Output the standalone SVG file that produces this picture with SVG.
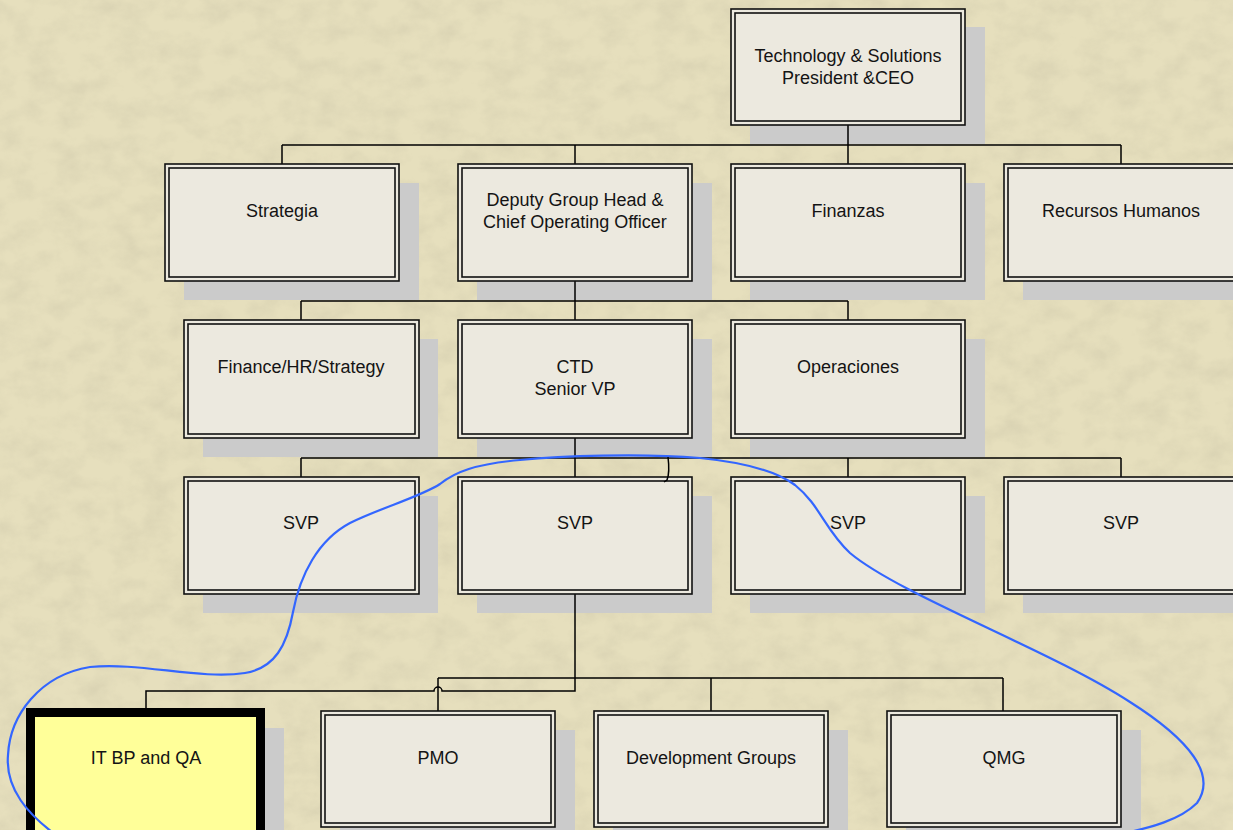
<svg xmlns="http://www.w3.org/2000/svg" width="1233" height="830" viewBox="0 0 1233 830">
<style>
.shadow{fill:#cbcbcb}
.outer{fill:#ece9df;stroke:#111;stroke-width:1.6}
.inner{fill:none;stroke:#111;stroke-width:1.6}
.lbl{font-family:"Liberation Sans",Arial,sans-serif;font-size:18px;fill:#141414;text-anchor:middle}
.conn{fill:none;stroke:#000;stroke-width:1.5}
</style>
<defs>
<filter id="tex" x="0" y="0" width="100%" height="100%">
<feTurbulence type="fractalNoise" baseFrequency="0.035 0.05" numOctaves="4" seed="7"/>
<feColorMatrix type="matrix" values="0 0 0 0 0.45  0 0 0 0 0.42  0 0 0 0 0.30  0 0 0 -1.6 1.0"/>
</filter>
</defs>
<rect width="1233" height="830" fill="#e6dfbd"/>
<rect width="1233" height="830" filter="url(#tex)" opacity="0.25"/>

<g id="shadows">
<rect class="shadow" x="750" y="27" width="235" height="117"/>
<rect class="shadow" x="184" y="183" width="235" height="117"/>
<rect class="shadow" x="477" y="183" width="235" height="117"/>
<rect class="shadow" x="750" y="183" width="235" height="117"/>
<rect class="shadow" x="1023" y="183" width="235" height="117"/>
<rect class="shadow" x="203" y="339" width="235" height="118"/>
<rect class="shadow" x="477" y="339" width="235" height="118"/>
<rect class="shadow" x="750" y="339" width="235" height="118"/>
<rect class="shadow" x="203" y="496" width="235" height="117"/>
<rect class="shadow" x="477" y="496" width="235" height="117"/>
<rect class="shadow" x="750" y="496" width="235" height="117"/>
<rect class="shadow" x="1023" y="496" width="235" height="117"/>
<rect class="shadow" x="45" y="728" width="239" height="110"/>
<rect class="shadow" x="340" y="730" width="235" height="110"/>
<rect class="shadow" x="613" y="730" width="235" height="110"/>
<rect class="shadow" x="906" y="730" width="235" height="110"/>
</g>

<g id="connectors">
<path class="conn" d="M848 125V145M282 145H1121M282 145V164M575 145V164M848 145V164M1121 145V164"/>
<path class="conn" d="M575 281V301M301 301H848M301 301V320M575 301V320M848 301V320"/>
<path class="conn" d="M575 438V458M301 458H1121M301 458V477M575 458V477M848 458V477M1121 458V477"/>
<path class="conn" d="M575 594V691H442A4 4 0 0 0 434 691H146V708"/>
<path class="conn" d="M438 678H1003M438 678V711M711 678V711M1003 678V711"/>
</g>

<g id="n-ceo">
<rect class="outer" x="731" y="9" width="234" height="116"/>
<rect class="inner" x="735" y="13" width="226" height="108"/>
<text class="lbl" x="848" y="62">Technology &amp; Solutions</text>
<text class="lbl" x="848" y="84">President &amp;CEO</text>
</g>

<g id="n-strategia">
<rect class="outer" x="165" y="164" width="234" height="117"/>
<rect class="inner" x="169" y="168" width="226" height="109"/>
<text class="lbl" x="282" y="217">Strategia</text>
</g>
<g id="n-deputy">
<rect class="outer" x="458" y="164" width="234" height="117"/>
<rect class="inner" x="462" y="168" width="226" height="109"/>
<text class="lbl" x="575" y="206">Deputy Group Head &amp;</text>
<text class="lbl" x="575" y="228">Chief Operating Officer</text>
</g>
<g id="n-finanzas">
<rect class="outer" x="731" y="164" width="234" height="117"/>
<rect class="inner" x="735" y="168" width="226" height="109"/>
<text class="lbl" x="848" y="217">Finanzas</text>
</g>
<g id="n-rrhh">
<rect class="outer" x="1004" y="164" width="234" height="117"/>
<rect class="inner" x="1008" y="168" width="226" height="109"/>
<text class="lbl" x="1121" y="217">Recursos Humanos</text>
</g>

<g id="n-finhr">
<rect class="outer" x="184" y="320" width="235" height="118"/>
<rect class="inner" x="188" y="324" width="227" height="110"/>
<text class="lbl" x="301" y="373">Finance/HR/Strategy</text>
</g>
<g id="n-ctd">
<rect class="outer" x="458" y="320" width="234" height="118"/>
<rect class="inner" x="462" y="324" width="226" height="110"/>
<text class="lbl" x="575" y="373">CTD</text>
<text class="lbl" x="575" y="395">Senior VP</text>
</g>
<g id="n-operaciones">
<rect class="outer" x="731" y="320" width="234" height="118"/>
<rect class="inner" x="735" y="324" width="226" height="110"/>
<text class="lbl" x="848" y="373">Operaciones</text>
</g>

<g id="n-svp1">
<rect class="outer" x="184" y="477" width="235" height="117"/>
<rect class="inner" x="188" y="481" width="227" height="109"/>
<text class="lbl" x="301" y="529">SVP</text>
</g>
<g id="n-svp2">
<rect class="outer" x="458" y="477" width="234" height="117"/>
<rect class="inner" x="462" y="481" width="226" height="109"/>
<text class="lbl" x="575" y="529">SVP</text>
</g>
<g id="n-svp3">
<rect class="outer" x="731" y="477" width="234" height="117"/>
<rect class="inner" x="735" y="481" width="226" height="109"/>
<text class="lbl" x="848" y="529">SVP</text>
</g>
<g id="n-svp4">
<rect class="outer" x="1004" y="477" width="234" height="117"/>
<rect class="inner" x="1008" y="481" width="226" height="109"/>
<text class="lbl" x="1121" y="529">SVP</text>
</g>

<g id="n-itbp">
<rect x="30.5" y="712.5" width="230" height="130" fill="#ffff99" stroke="#000" stroke-width="9"/>
<text class="lbl" x="146" y="764">IT BP and QA</text>
</g>
<g id="n-pmo">
<rect class="outer" x="321" y="711" width="234" height="116"/>
<rect class="inner" x="325" y="715" width="226" height="108"/>
<text class="lbl" x="438" y="764">PMO</text>
</g>
<g id="n-dev">
<rect class="outer" x="594" y="711" width="234" height="116"/>
<rect class="inner" x="598" y="715" width="226" height="108"/>
<text class="lbl" x="711" y="764">Development Groups</text>
</g>
<g id="n-qmg">
<rect class="outer" x="887" y="711" width="234" height="116"/>
<rect class="inner" x="891" y="715" width="226" height="108"/>
<text class="lbl" x="1004" y="764">QMG</text>
</g>

<g id="annotation">
<path d="M52 832C30 815 5 790 8 755C10 715 40 675 90 667C140 662 200 680 245 673C275 668 287 645 293 612C300 575 318 540 350 523C380 508 420 497 440 484C455 472 475 464 520 460C560 456 640 453 700 458C740 462 775 470 795 485C820 505 825 530 850 553C900 595 1050 650 1130 702C1190 740 1217 775 1197 803C1180 820 1150 828 1120 834" fill="none" stroke="#3366ff" stroke-width="2.2"/>
<path d="M668 457C669 465 669 475 667 480L664 482" fill="none" stroke="#000" stroke-width="1.5"/>
</g>
</svg>
